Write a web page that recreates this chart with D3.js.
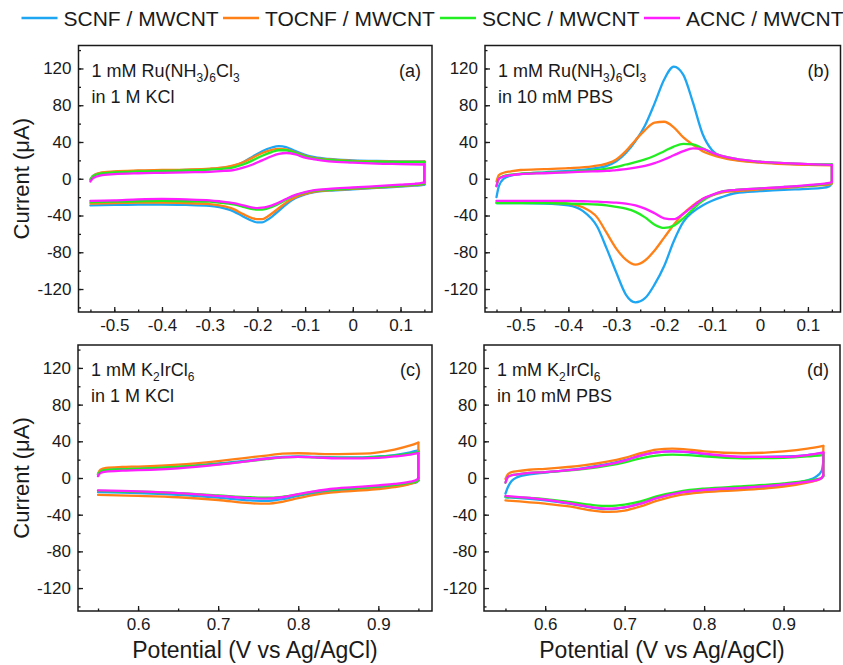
<!DOCTYPE html>
<html><head><meta charset="utf-8">
<script src="https://cdn.jsdelivr.net/npm/d3@7"></script>
<style>body{margin:0;background:#fff}svg{display:block}text{font-family:"Liberation Sans",Arial,sans-serif;fill:#1a1a1a}</style>
</head><body>
<script>
// ---------------- DATA ----------------
const seriesNames = ["SCNF / MWCNT", "TOCNF / MWCNT", "SCNC / MWCNT", "ACNC / MWCNT"];
const yTicks = [120, 80, 40, 0, -40, -80, -120];
const xTicksRu = [-0.5, -0.4, -0.3, -0.2, -0.1, 0, 0.1];
const xTicksIr = [0.6, 0.7, 0.8, 0.9];

// panel (a) Ru(NH3)6Cl3 in 1 M KCl
const aUpX = [-0.55,-0.545,-0.53,-0.5,-0.45,-0.4,-0.35,-0.3,-0.27,-0.25,-0.23,-0.21,-0.19,-0.17,-0.155,-0.14,-0.12,-0.1,-0.08,-0.05,0,0.05,0.1,0.15];
const aUpSCNF  = [-1,3,6,7.5,8.5,9,9.5,10.5,12,14,18,24,30,34,35.5,34.5,30,26,23.5,21.5,20,19.3,19,19];
const aUpTOCNF = [-1,3,6.5,8,9,9.5,10,11,12.5,14.5,18,23,28,31.5,32.5,32,28.5,25,22.5,21,19.5,19,18.5,18.5];
const aUpSCNC  = [-1,2.5,5.5,7,8,8.5,9,10,11,12.5,15.5,20,25,29,31,31,28,24.5,22,20.5,19,18.5,18,18];
const aUpACNC  = [-3,0.5,3.5,5,6,6.5,7,7.5,8.5,9.5,12,15.5,20,24.5,27,28,26.5,23,21,19,17.5,16.5,16,15.5];
const aLoX = [0.15,0.145,0.13,0.1,0.05,0,-0.05,-0.08,-0.1,-0.12,-0.14,-0.16,-0.18,-0.19,-0.2,-0.21,-0.23,-0.25,-0.28,-0.3,-0.35,-0.4,-0.45,-0.5,-0.55];
const aLoSCNF  = [-6.5,-7,-7.5,-8.5,-10,-11.5,-13,-14.5,-17,-21,-28,-37,-45,-47.5,-47.5,-46,-41,-35.5,-31,-29.5,-28.5,-28,-28,-28.5,-29];
const aLoTOCNF = [-5.5,-6,-7,-8,-9.5,-11,-12.5,-14,-16.5,-20,-26,-34,-41.5,-44,-44,-43,-38.5,-33,-29,-27.5,-26.5,-26,-26,-26.5,-27];
const aLoSCNC  = [-5,-5.5,-6.5,-7.5,-9,-10.5,-12,-13,-15,-18,-23,-28.5,-32.5,-33.5,-33.5,-33,-30.5,-28,-26,-25,-24.5,-24,-24.5,-25,-25.5];
const aLoACNC  = [-4,-4.5,-5.5,-6.5,-8,-9.5,-11,-12.5,-14.5,-17.5,-22,-27,-30.5,-31.5,-32,-31.5,-29,-26.5,-24.5,-23.5,-22.5,-22,-22.5,-23.5,-24];

// panel (b) Ru(NH3)6Cl3 in 10 mM PBS
const bUpX = [-0.55,-0.545,-0.535,-0.52,-0.5,-0.45,-0.4,-0.35,-0.32,-0.3,-0.28,-0.26,-0.24,-0.22,-0.2,-0.18,-0.16,-0.14,-0.12,-0.1,-0.08,-0.05,0,0.05,0.1,0.15];
const bUpSCNF  = [-20,-8,0,3.5,5,7,8.5,11,14,19,28,41,58,82,108,122,113,83,49,31,24,20.5,18,16.5,15.5,15];
const bUpTOCNF = [-3,4,6.5,8,9.5,10.5,11.5,13.5,16.5,21,30,42,53,61,62,56,45,37,30,26,23,20,17.5,16,15,14.5];
const bUpSCNC  = [-8,0,3,4.5,5.5,6.5,7.5,9,11,13,15.5,18,21,25,30,35,38,37.5,33,28.5,25,21.5,18.5,17,16,15.5];
const bUpACNC  = [-8,0,2.5,4,5,6,7,8,8.5,9.5,10.5,12,14,17,21,25.5,30,33,32.5,28.5,25,21.5,18.5,17,16,15];
const bLoX = [0.15,0.145,0.13,0.1,0.05,0,-0.05,-0.08,-0.1,-0.12,-0.14,-0.16,-0.18,-0.2,-0.22,-0.24,-0.26,-0.28,-0.3,-0.32,-0.34,-0.37,-0.4,-0.45,-0.5,-0.55];
const bLoSCNF  = [-5,-8,-10,-11,-12,-13.5,-15.5,-20,-24,-29,-36,-47,-68,-95,-115,-130,-134.5,-126,-102,-76,-52,-35,-29,-27,-26.5,-26.5];
const bLoTOCNF = [-5,-6,-7,-8,-10,-11.5,-13.5,-15,-18,-22,-29,-38,-50,-64,-78,-89,-93.5,-88,-76,-59,-42,-31,-27,-26,-25.5,-25.5];
const bLoSCNC  = [-4,-5,-6,-7.5,-9,-10.5,-12,-14,-18,-24,-33,-43,-51,-53.5,-50,-42,-36,-32.5,-30.5,-29,-28,-27.5,-27,-26.5,-26.5,-26.5];
const bLoACNC  = [-3.5,-4.5,-5.5,-7,-9,-10.5,-12,-14,-17.5,-22,-30,-38,-44,-43,-37.5,-32.5,-29,-27,-26,-25.5,-25,-24.5,-24,-24,-24,-24];

// panel (c) K2IrCl6 in 1 M KCl
const cUpX = [0.55,0.553,0.56,0.58,0.6,0.65,0.7,0.73,0.76,0.78,0.8,0.82,0.85,0.88,0.9,0.92,0.94,0.95];
const cUpSCNF  = [4,7.5,9,10,10.5,12.5,16,18.5,21.5,23,23.5,23,22.5,22.5,23.5,25,28,30];
const cUpTOCNF = [5,9,11,12,12.5,14.5,18.5,21.5,24.5,26.5,27,26.5,26,26.5,28,31,35.5,38.5];
const cUpSCNC  = [4,7,8.5,9.5,10,12,15,17.5,20.5,22.5,23,22.5,22,22,23,24.5,26.5,28];
const cUpACNC  = [2,5.5,7,8,8.5,10.5,14.5,17.5,21,22.5,23,22.5,21.5,21.5,22,23.5,25.5,27];
const cLoX = [0.95,0.948,0.94,0.92,0.9,0.87,0.84,0.82,0.8,0.78,0.76,0.74,0.7,0.65,0.6,0.55];
const cLoSCNF  = [-3,-4.5,-6,-9,-10.5,-12.5,-14.5,-16.5,-19.5,-23,-25,-24.5,-21.5,-18.5,-16.5,-15.5];
const cLoTOCNF = [-2,-4,-6.5,-10,-12,-14,-16,-18.5,-22,-26,-28,-27.5,-24,-21,-19.5,-18.5];
const cLoSCNC  = [-2,-3.5,-5,-7.5,-9,-11,-13,-15,-18,-20.5,-21.5,-21,-19,-16.5,-15,-14];
const cLoACNC  = [0,-2,-4,-6.5,-8,-10,-12,-14.5,-17.5,-21,-22.5,-22,-19.5,-16.5,-14.5,-13.5];

// panel (d) K2IrCl6 in 10 mM PBS
const dUpX = [0.55,0.553,0.558,0.565,0.58,0.6,0.65,0.7,0.72,0.74,0.76,0.78,0.8,0.85,0.9,0.93,0.95];
const dUpSCNF  = [-17,-10,-3,1,4,6,11,19.5,24.5,28,29,28,26,23,23.5,25,27];
const dUpTOCNF = [-1,4,6.5,7.5,9,10,14,22,27,31,32,31,29,27,29,32,35];
const dUpSCNC  = [-5,1,3,4,5.5,6.5,10,17,21.5,24.5,25.5,25,23.5,21.5,22,23.5,25];
const dUpACNC  = [-5,1,3,4,5.5,6.5,10.5,19,24.5,28,29,28.5,26.5,23,23,25,28];
const dLoX = [0.95,0.948,0.94,0.93,0.9,0.85,0.8,0.77,0.74,0.72,0.7,0.68,0.66,0.63,0.6,0.55];
const dLoSCNF  = [18,8,1,-2.5,-8,-11,-13.5,-16,-22,-28,-32,-34,-32.5,-28,-24.5,-21];
const dLoTOCNF = [3,0,-3,-5,-9.5,-13,-15.5,-18.5,-25,-31,-35.5,-37,-35.5,-31,-28,-24.5];
const dLoSCNC  = [2,0,-1.5,-3,-6,-9,-11.5,-14.5,-20,-25.5,-29,-30.5,-29.5,-26,-23,-20.5];
const dLoACNC  = [3,0,-2.5,-4,-7,-10.5,-13,-16,-22,-28,-32,-33.5,-32,-27.5,-23.5,-19.5];

// ---------------- STYLE / LAYOUT ----------------
const colors = ["#1EA6F2", "#FF8016", "#22EE22", "#FF1EFF"];
const W = 843, H = 665;
const panels = [
  {tag:"(a)", box:{l:78.5,r:432,t:45.5,b:312}, xd:[-0.575,0.166], xt:xTicksRu, minor:0.05,
   upX:aUpX, up:[aUpSCNF,aUpTOCNF,aUpSCNC,aUpACNC], loX:aLoX, lo:[aLoSCNF,aLoTOCNF,aLoSCNC,aLoACNC],
   line1:[["1 mM Ru(NH",0],["3",1],[")",0],["6",1],["Cl",0],["3",1]], line2:"in 1 M KCl", xlab:false},
  {tag:"(b)", box:{l:485,r:840.5,t:45.5,b:312}, xd:[-0.574,0.168], xt:xTicksRu, minor:0.05,
   upX:bUpX, up:[bUpSCNF,bUpTOCNF,bUpSCNC,bUpACNC], loX:bLoX, lo:[bLoSCNF,bLoTOCNF,bLoSCNC,bLoACNC],
   line1:[["1 mM Ru(NH",0],["3",1],[")",0],["6",1],["Cl",0],["3",1]], line2:"in 10 mM PBS", xlab:false},
  {tag:"(c)", box:{l:78,r:432,t:345,b:611}, xd:[0.525,0.967], xt:xTicksIr, minor:0.05,
   upX:cUpX, up:[cUpSCNF,cUpTOCNF,cUpSCNC,cUpACNC], loX:cLoX, lo:[cLoSCNF,cLoTOCNF,cLoSCNC,cLoACNC],
   line1:[["1 mM K",0],["2",1],["IrCl",0],["6",1]], line2:"in 1 M KCl", xlab:true},
  {tag:"(d)", box:{l:484,r:840,t:345,b:611}, xd:[0.523,0.971], xt:xTicksIr, minor:0.05,
   upX:dUpX, up:[dUpSCNF,dUpTOCNF,dUpSCNC,dUpACNC], loX:dLoX, lo:[dLoSCNF,dLoTOCNF,dLoSCNC,dLoACNC],
   line1:[["1 mM K",0],["2",1],["IrCl",0],["6",1]], line2:"in 10 mM PBS", xlab:true}
];

const svg = d3.select("body").append("svg").attr("width", W).attr("height", H);
const fmt = d => String(+d.toFixed(2));

panels.forEach((p, pi) => {
  const B = p.box;
  const x = d3.scaleLinear().domain(p.xd).range([B.l, B.r]);
  const y = d3.scaleLinear().domain([-145, 145]).range([B.b, B.t]);
  const g = svg.append("g");

  const xMinor = d3.range(Math.ceil(p.xd[0]/p.minor)*p.minor, p.xd[1], p.minor).map(v => +v.toFixed(3));
  const yMinor = d3.range(-140, 141, 20);
  const ax = (axis, sel) => { sel.call(axis); sel.select(".domain").remove(); sel.selectAll("line").attr("stroke","#1a1a1a").attr("stroke-width",1.3); };

  ax(d3.axisBottom(x).tickValues(xMinor).tickSize(-2.5).tickFormat(""), g.append("g").attr("transform",`translate(0,${B.b})`));
  ax(d3.axisLeft(y).tickValues(yMinor).tickSize(-2.5).tickFormat(""), g.append("g").attr("transform",`translate(${B.l},0)`));
  ax(d3.axisBottom(x).tickValues(p.xt).tickSize(-5).tickPadding(7).tickFormat(fmt), g.append("g").attr("transform",`translate(0,${B.b})`));
  ax(d3.axisLeft(y).tickValues(yTicks).tickSize(-5).tickPadding(7).tickFormat(fmt), g.append("g").attr("transform",`translate(${B.l},0)`));
  g.selectAll(".tick text").attr("font-size", 17).attr("fill","#1a1a1a").attr("font-family",'"Liberation Sans",Arial,sans-serif');

  // curves: upper branch, switching segment at the vertex, lower branch (monotone in x)
  const line = d3.line().x(d => x(d[0])).y(d => y(d[1])).curve(d3.curveMonotoneX);
  p.up.forEach((u, si) => {
    const upPts = p.upX.map((xv,i)=>[xv,u[i]]);
    const loPts = p.loX.map((xv,i)=>[xv,p.lo[si][i]]).reverse();
    const last = upPts[upPts.length-1];
    const gp = g.append("g").attr("fill","none").attr("stroke",colors[si]).attr("stroke-width",2.3)
      .attr("stroke-linejoin","round").attr("stroke-linecap","round");
    gp.append("path").attr("d", line(upPts));
    gp.append("path").attr("d", line(loPts));
    gp.append("path").attr("d", line([last, [p.loX[0], p.lo[si][0]]]));
  });

  g.append("rect").attr("x",B.l).attr("y",B.t).attr("width",B.r-B.l).attr("height",B.b-B.t)
    .attr("fill","none").attr("stroke","#1a1a1a").attr("stroke-width",1.5);

  const t1 = g.append("text").attr("x",B.l+13).attr("y",B.t+31).attr("font-size",18);
  let prevSub = 0;
  p.line1.forEach(([s,sub]) => {
    const ts = t1.append("tspan").text(s);
    if (sub) ts.attr("font-size",12).attr("dy", prevSub ? 0 : 5);
    else if (prevSub) ts.attr("dy", -5);
    prevSub = sub;
  });
  g.append("text").attr("x",B.l+13).attr("y",B.t+57).attr("font-size",18).text(p.line2);
  g.append("text").attr("x",B.r-11).attr("y",B.t+31).attr("font-size",18).attr("text-anchor","end").text(p.tag);

  if (pi % 2 === 0) {
    g.append("text").attr("transform",`translate(29,${(B.t+B.b)/2}) rotate(-90)`).attr("text-anchor","middle")
      .attr("font-size",22).text("Current (μA)");
  }
  if (p.xlab) {
    g.append("text").attr("x",(B.l+B.r)/2).attr("y",658).attr("text-anchor","middle").attr("font-size",23)
      .text("Potential (V vs Ag/AgCl)");
  }
});

const legX = [21.5, 223, 440, 644];
const leg = svg.append("g");
seriesNames.forEach((n, i) => {
  leg.append("line").attr("x1",legX[i]).attr("x2",legX[i]+36).attr("y1",18).attr("y2",18)
    .attr("stroke",colors[i]).attr("stroke-width",2.5);
  leg.append("text").attr("x",legX[i]+42).attr("y",25.5).attr("font-size",21).text(n);
});
</script>
</body></html>
